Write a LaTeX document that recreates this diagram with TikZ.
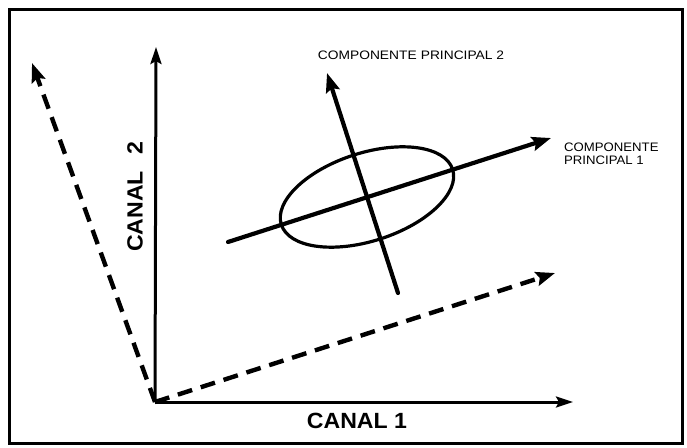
\documentclass[tikz,border=0pt]{standalone}
\usepackage{fontspec}
\setmainfont{Liberation Sans}
\usetikzlibrary{arrows.meta}

\tikzset{
  axisline/.style={line width=3pt,-{Stealth[length=17pt,width=11pt,inset=3pt]}},
  pcline/.style={line width=4.2pt,line cap=round,-{Stealth[length=19pt,width=14pt,inset=3pt]}},
  rotline/.style={line width=4.4pt,dash pattern=on 15pt off 9pt,-{Stealth[length=19pt,width=14pt,inset=3pt]}},
  biglabel/.style={font=\fontsize{22}{24}\selectfont\bfseries,inner sep=0pt},
  smalllabel/.style={font=\fontsize{12.3}{13}\selectfont,inner sep=0pt}
}

\begin{document}
\begin{tikzpicture}[x=1pt,y=-1pt]
    \useasboundingbox (0,0) rectangle (687,447);

    % Frame round the figure
    \draw[line width=3pt] (9.5,9.5) rectangle (682,443);

    % Points of the scatter plot
    \coordinate (O) at (155,402);
    \coordinate (c1) at (573,402);
    \coordinate (c2) at (156,47);
    \coordinate (r1) at (555,273);
    \coordinate (r2) at (32,63);
    \coordinate (ctr) at (367,197);
    \coordinate (pc1a) at (228,242);
    \coordinate (pc1b) at (551,138);
    \coordinate (pc2a) at (398,293);
    \coordinate (pc2b) at (327,73);

    % Original axes
    \draw[axisline] (O) -- (c1);
    \draw[axisline] (O) -- (c2);

    % Rotated axes (dashed)
    \draw[rotline] (O) -- (r1);
    \draw[rotline] (O) -- (r2);

    % Cloud of points and principal components
    \draw[line width=3.2pt,rotate around={17.9:(ctr)}] (ctr) ellipse [x radius=90pt,y radius=44pt];
    \draw[pcline] (pc1a) -- (pc1b);
    \draw[pcline] (pc2a) -- (pc2b);

    % Labels
    \node[biglabel] (canal1) at (357,421) {\scalebox{1.05}[1]{CANAL 1}};
    \node[biglabel,rotate=90] (canal2) at (135,197) {\scalebox{1.05}[1]{CANAL\hspace{0.7em}2}};
    \node[smalllabel] (pc2lbl) at (411,55) {\scalebox{1.12}[1]{COMPONENTE\hspace{0.3em}PRINCIPAL 2}};
    \node[smalllabel,anchor=west,align=left] (pc1lbl) at (564,154) {\scalebox{1.07}[1]{COMPONENTE}\\[0pt]\scalebox{1.07}[1]{PRINCIPAL 1}};
\end{tikzpicture}
\end{document}
